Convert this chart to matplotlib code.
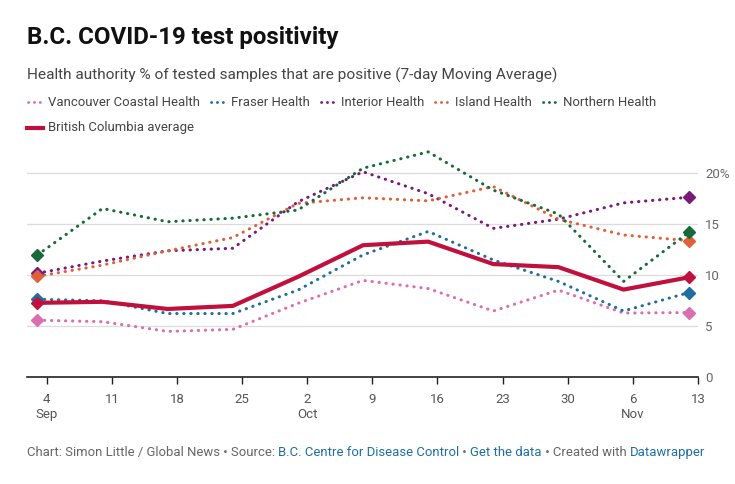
import numpy as np
import matplotlib
matplotlib.use("Agg")
import matplotlib.pyplot as plt
from matplotlib.lines import Line2D

plt.rcParams['font.family'] = ['Roboto', 'DejaVu Sans']

# days counted from Sep 1 (2020)
days = [2, 9, 16, 23, 30, 37, 44, 51, 58, 65, 72]

vancouver = [5.6, 5.45, 4.5, 4.7, 7.25, 9.5, 8.7, 6.5, 8.55, 6.3, 6.35]
fraser = [7.65, 7.5, 6.25, 6.25, 8.55, 12.0, 14.3, 11.5, 9.4, 6.5, 8.3]
interior = [10.2, 11.4, 12.4, 12.65, 17.2, 20.15, 18.0, 14.6, 15.5, 17.1, 17.65]
island = [9.9, 11.0, 12.4, 13.7, 17.05, 17.6, 17.3, 18.7, 15.5, 13.95, 13.4]
northern = [12.0, 16.55, 15.25, 15.6, 16.4, 20.5, 22.1, 18.35, 16.0, 9.4, 14.2]
bc_avg = [7.3, 7.4, 6.7, 7.0, 9.85, 12.95, 13.3, 11.1, 10.8, 8.6, 9.8]

tick_days = [3, 10, 17, 24, 31, 38, 45, 52, 59, 66, 73]
tick_labels = ["4\nSep", "11", "18", "25", "2\nOct", "9", "16", "23", "30", "6\nNov", "13"]
y_ticks = [0, 5, 10, 15, 20]
y_labels = ["0", "5", "10", "15", "20%"]

series = [
    ("Vancouver Coastal Health", vancouver, "#d96fae"),
    ("Fraser Health", fraser, "#1f6e9e"),
    ("Interior Health", interior, "#781a7c"),
    ("Island Health", island, "#e0603c"),
    ("Northern Health", northern, "#17693a"),
]
bc_color = "#c0113e"

W, H = 735, 484
fig = plt.figure(figsize=(W / 100, H / 100), dpi=100)
fig.patch.set_facecolor("white")

ax_left, ax_right, ax_bottom, ax_top = 27, 698, 377.3, 142.7
ax = fig.add_axes([ax_left / W, 1 - ax_bottom / H, (ax_right - ax_left) / W, (ax_bottom - ax_top) / H])
ax.set_xlim(0.88, 73)
ax.set_ylim(0, 23)

for yv in y_ticks[1:]:
    ax.axhline(yv, color="#dcdcdc", lw=0.9, zorder=0)

for name, vals, col in series:
    ax.plot(days, vals, color=col, lw=2.2, linestyle=(0, (0.1, 2.2)),
            dash_capstyle="round", zorder=2)
    ax.plot([days[0], days[-1]], [vals[0], vals[-1]], linestyle="none",
            marker="D", ms=6, color=col, zorder=3)

ax.plot(days, bc_avg, color=bc_color, lw=3, solid_joinstyle="round", zorder=4)
ax.plot([days[0], days[-1]], [bc_avg[0], bc_avg[-1]], linestyle="none",
        marker="D", ms=6, color=bc_color, zorder=5)

for s in ["top", "right", "left"]:
    ax.spines[s].set_visible(False)
ax.spines["bottom"].set_color("#222222")
ax.spines["bottom"].set_linewidth(1.2)
ax.set_xticks(tick_days)
ax.set_xticklabels(tick_labels, fontsize=9.5, color="#555555", linespacing=1.25)
ax.tick_params(axis="x", length=5, width=1, color="#222222", pad=6)
ax.yaxis.tick_right()
ax.set_yticks(y_ticks)
ax.set_yticklabels(y_labels, fontsize=9.5, color="#666666")
ax.tick_params(axis="y", length=0, pad=5)

# header
fig.text(27 / W, 1 - 37.7 / H, "B.C. COVID-19 test positivity", fontsize=17.4, fontweight="bold",
         color="#111111", va="center", ha="left")
fig.text(27 / W, 1 - 75 / H, "Health authority % of tested samples that are positive (7-day Moving Average)",
         fontsize=11.05, color="#444444", va="center", ha="left")

# legend
fig.canvas.draw()
renderer = fig.canvas.get_renderer()
x = 27
y1 = 102.3
for name, vals, col in series:
    fig.add_artist(Line2D([(x + 1) / W, (x + 13) / W], [1 - y1 / H, 1 - y1 / H], color=col, lw=2,
                          linestyle=(0, (0.1, 2.0)), dash_capstyle="round"))
    t = fig.text((x + 21) / W, 1 - y1 / H, name, fontsize=9.45, color="#444444", va="center", ha="left")
    w = t.get_window_extent(renderer).width
    x = x + 21 + w + 10
y2 = 127.7
fig.add_artist(Line2D([27 / W, 43 / W], [1 - y2 / H, 1 - y2 / H], color=bc_color, lw=3))
fig.text(48 / W, 1 - y2 / H, "British Columbia average", fontsize=9.45, color="#444444", va="center", ha="left")

# footer
parts = [
    ("Chart: Simon Little / Global News \u2022 Source: ", "#666666"),
    ("B.C. Centre for Disease Control", "#1f6fa3"),
    (" \u2022 ", "#666666"),
    ("Get the data", "#1f6fa3"),
    (" \u2022 Created with ", "#666666"),
    ("Datawrapper", "#1f6fa3"),
]
x = 27
yf = 452.3
for txt, col in parts:
    t = fig.text(x / W, 1 - yf / H, txt, fontsize=9.43, color=col, va="center", ha="left")
    x += t.get_window_extent(renderer).width

fig.savefig("out.png", dpi=100)
